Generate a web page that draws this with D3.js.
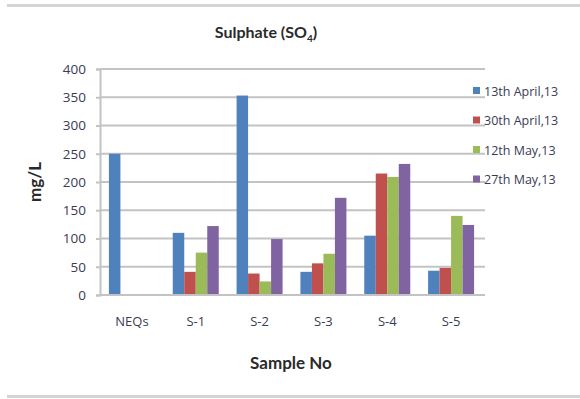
<!DOCTYPE html>
<html>
<head>
<meta charset="utf-8">
<script src="https://cdn.jsdelivr.net/npm/d3@7"></script>
<style>
  html, body { margin: 0; padding: 0; background: #fff; }
  svg { display: block; font-family: "Open Sans", Lato, "Liberation Sans", sans-serif; }
  .bold { font-family: Lato, "Open Sans", sans-serif; font-weight: bold; }
</style>
</head>
<body>
<svg id="chart" width="580" height="399"></svg>
<script>
// Sulphate concentration per sample, four sampling dates
const categories = ["NEQs", "S-1", "S-2", "S-3", "S-4", "S-5"];
const seriesNames = ["13th April,13", "30th April,13", "12th May,13", "27th May,13"];
const april13 = [250, 110, 353, 41, 105, 43];
const april30 = [null, 41, 38, 56, 215, 48];
const may12 = [null, 75, 24, 73, 209, 140];
const may27 = [null, 122, 99, 172, 232, 124];
const yTicks = [0, 50, 100, 150, 200, 250, 300, 350, 400];
const colors = ["#4F81BD", "#C0504D", "#9BBB59", "#8064A2"];

const seriesValues = [april13, april30, may12, may27];

const svg = d3.select("#chart");
const W = 580;
const plot = { left: 100, right: 483, top: 69, bottom: 295 };

// frame lines top and bottom
svg.append("rect").attr("x", 7).attr("y", 4).attr("width", W - 7).attr("height", 3).attr("fill", "#d4d4d4");
svg.append("rect").attr("x", 7).attr("y", 395).attr("width", W - 7).attr("height", 3).attr("fill", "#d4d4d4");

const x0 = d3.scaleBand().domain(categories).range([plot.left, plot.right]).paddingInner(0).paddingOuter(0);
const groupWidth = 46;
const x1 = d3.scaleBand().domain(d3.range(seriesNames.length)).range([0, groupWidth]).padding(0);
const y = d3.scaleLinear().domain([0, 400]).range([plot.bottom, plot.top]);

// gridlines
svg.append("g")
  .selectAll("line")
  .data(yTicks.filter(t => t > 0))
  .join("line")
  .attr("x1", plot.left).attr("x2", plot.right + 2)
  .attr("y1", d => y(d)).attr("y2", d => y(d))
  .attr("stroke", "#c3c3c3").attr("stroke-width", 2);

// bars
const rows = categories.map((c, i) => ({ cat: c, vals: seriesValues.map(s => s[i]) }));
const groups = svg.append("g").selectAll("g")
  .data(rows)
  .join("g")
  .attr("transform", d => `translate(${x0(d.cat) + (x0.bandwidth() - groupWidth) / 2},0)`);
groups.selectAll("rect")
  .data(d => d.vals.map((v, k) => ({ v, k })).filter(e => e.v != null))
  .join("rect")
  .attr("x", d => x1(d.k))
  .attr("width", x1.bandwidth())
  .attr("y", d => y(d.v))
  .attr("height", d => y(0) - y(d.v))
  .attr("fill", d => colors[d.k]);

// y axis
const yAxis = d3.axisLeft(y).tickValues(yTicks).tickSize(4).tickPadding(10);
const gy = svg.append("g").attr("transform", `translate(${plot.left},0)`).call(yAxis);
gy.select(".domain").attr("stroke", "#c3c3c3").attr("stroke-width", 2);
gy.selectAll(".tick line").attr("stroke", "#c3c3c3").attr("stroke-width", 2);
gy.selectAll(".tick text").attr("fill", "#3b3b55").attr("font-size", 13.5)
  .style("font-family", "'Open Sans', sans-serif");

// x axis
const xAxis = d3.axisBottom(x0).tickSize(0).tickPadding(22);
const gx = svg.append("g").attr("transform", `translate(0,${plot.bottom})`).call(xAxis);
gx.select(".domain").attr("stroke", "#c3c3c3").attr("stroke-width", 2).attr("d", `M${plot.left},0H${plot.right + 2}`);
gx.selectAll(".tick text").attr("fill", "#3b3b55").attr("font-size", 13)
  .style("font-family", "'Open Sans', sans-serif");

// title
const title = svg.append("text")
  .attr("class", "bold")
  .attr("x", 266).attr("y", 38)
  .attr("text-anchor", "middle")
  .attr("font-size", 16).attr("fill", "#2a2a2a");
title.append("tspan").text("Sulphate (SO");
title.append("tspan").attr("font-size", 10).attr("dy", 4).text("4");
title.append("tspan").attr("dy", -4).text(")");

// axis titles
svg.append("text")
  .attr("class", "bold")
  .attr("x", 291).attr("y", 369)
  .attr("text-anchor", "middle")
  .attr("font-size", 17).attr("fill", "#2a2a2a")
  .text("Sample No");
svg.append("text")
  .attr("class", "bold")
  .attr("transform", "translate(41,182) rotate(-90)")
  .attr("text-anchor", "middle")
  .attr("font-size", 17).attr("fill", "#2a2a2a")
  .text("mg/L");

// legend
const legend = svg.append("g").selectAll("g")
  .data(seriesNames)
  .join("g")
  .attr("transform", (d, i) => `translate(473,${91 + i * 29.5})`);
legend.append("rect").attr("x", 0).attr("y", -4).attr("width", 7).attr("height", 7)
  .attr("fill", (d, i) => colors[i]);
legend.append("text").attr("x", 11).attr("y", 4.5)
  .attr("font-size", 12.5).attr("fill", "#3b3b55")
  .text(d => d);
</script>
</body>
</html>
